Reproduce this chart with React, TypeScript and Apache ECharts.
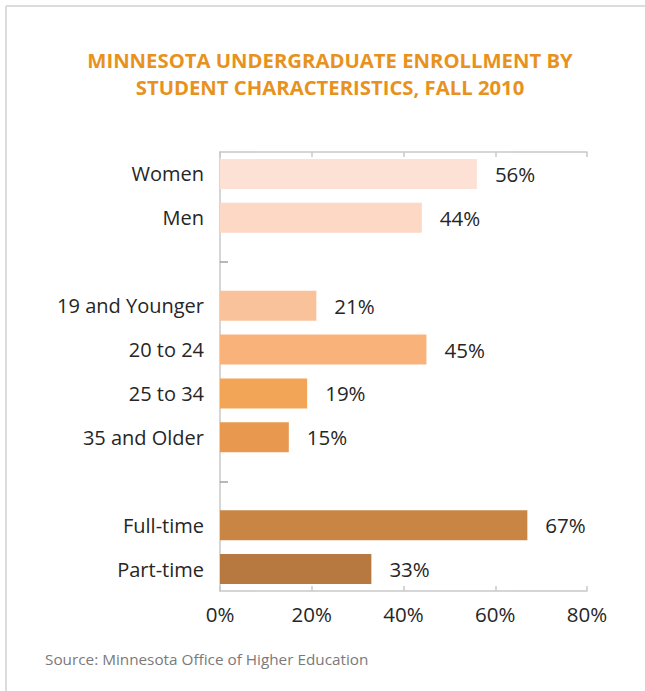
import React, { useEffect, useRef } from "react";
import * as echarts from "echarts";

const categories = [
  "Women",
  "Men",
  " ",
  "19 and Younger",
  "20 to 24",
  "25 to 34",
  "35 and Older",
  "  ",
  "Full-time",
  "Part-time",
];
const values: (number | null)[] = [56, 44, null, 21, 45, 19, 15, null, 67, 33];
const xTicks = [0, 20, 40, 60, 80];
const palette = [
  "#FDE1D5",
  "#FCD8C5",
  "#ffffff",
  "#FAC29B",
  "#F9B37A",
  "#F3A557",
  "#E8984F",
  "#ffffff",
  "#C98543",
  "#B7793F",
];
const titleLines = [
  "MINNESOTA UNDERGRADUATE ENROLLMENT BY",
  "STUDENT CHARACTERISTICS, FALL 2010",
];
const sourceText = "Source: Minnesota Office of Higher Education";

export default function App() {
  const ref = useRef<HTMLDivElement>(null);
  useEffect(() => {
    if (!ref.current) return;
    const chart = echarts.init(ref.current, undefined, { renderer: "svg" });
    const font = "'Open Sans', 'Noto Sans', sans-serif";
    const axisColor = "#c8c8c8";
    chart.setOption({
      animation: false,
      backgroundColor: "#ffffff",
      title: {
        text: titleLines.join("\n"),
        left: 325,
        top: 41,
        textAlign: "center",
        textStyle: {
          fontFamily: font,
          fontWeight: "bold",
          fontSize: 20.3,
          lineHeight: 27,
          color: "#E8921E",
        },
      },
      graphic: [
        {
          type: "line",
          shape: { x1: 6, y1: 6, x2: 645, y2: 6 },
          style: { stroke: "#dcdcdc", lineWidth: 2 },
        },
        {
          type: "line",
          shape: { x1: 6, y1: 6, x2: 6, y2: 691 },
          style: { stroke: "#dcdcdc", lineWidth: 2 },
        },
        {
          type: "text",
          left: 45,
          top: 651,
          style: {
            text: sourceText,
            fontFamily: font,
            fontSize: 15.3,
            fill: "#7a7a7a",
          },
        },
      ],
      grid: { left: 220, right: 58, top: 152, bottom: 100, containLabel: false },
      xAxis: [
        {
          type: "value",
          position: "bottom",
          min: xTicks[0],
          max: xTicks[xTicks.length - 1],
          interval: 20,
          splitLine: { show: false },
          axisLine: { show: true, lineStyle: { color: axisColor, width: 1.5 } },
          axisTick: { show: true, inside: true, length: 5, lineStyle: { color: axisColor, width: 1.5 } },
          axisLabel: {
            formatter: (v: number) => v + "%",
            fontFamily: font,
            fontSize: 20.5,
            color: "#262626",
            margin: 12,
          },
        },
        {
          type: "value",
          position: "top",
          min: xTicks[0],
          max: xTicks[xTicks.length - 1],
          interval: 20,
          splitLine: { show: false },
          axisLine: { show: true, lineStyle: { color: axisColor, width: 1.5 } },
          axisTick: { show: true, inside: true, length: 5, lineStyle: { color: axisColor, width: 1.5 } },
          axisLabel: { show: false },
        },
      ],
      yAxis: {
        type: "category",
        inverse: true,
        data: categories,
        axisLine: { show: true, lineStyle: { color: axisColor, width: 1.5 } },
        axisTick: {
          show: true,
          inside: true,
          length: 8,
          alignWithLabel: true,
          interval: (i: number) => values[i] === null,
          lineStyle: { color: "#a0a0a0", width: 1.5 },
        },
        axisLabel: {
          fontFamily: font,
          fontSize: 20,
          color: "#262626",
          margin: 16,
        },
      },
      series: [
        {
          type: "bar",
          xAxisIndex: 0,
          barWidth: 30,
          data: values.map((v, i) => ({
            value: v === null ? "-" : v,
            itemStyle: { color: palette[i] },
          })),
          label: {
            show: true,
            position: "right",
            distance: 18,
            formatter: (p: any) => p.value + "%",
            fontFamily: font,
            fontSize: 20.5,
            color: "#262626",
          },
        },
      ],
    });
    return () => chart.dispose();
  }, []);
  return (
    <div
      ref={ref}
      style={{ position: "fixed", left: 0, top: 0, width: 645, height: 691 }}
    />
  );
}
